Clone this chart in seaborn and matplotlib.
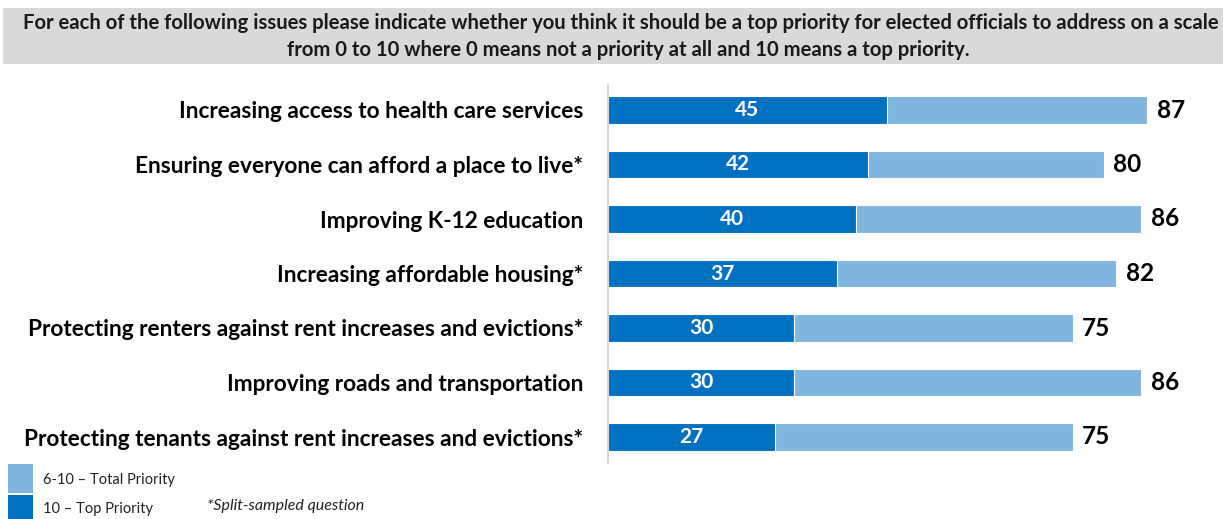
import matplotlib
matplotlib.use("Agg")
import matplotlib.pyplot as plt
from matplotlib.patches import Rectangle
import seaborn as sns
import pandas as pd

issues = [
    "Increasing access to health care services",
    "Ensuring everyone can afford a place to live*",
    "Improving K-12 education",
    "Increasing affordable housing*",
    "Protecting renters against rent increases and evictions*",
    "Improving roads and transportation",
    "Protecting tenants against rent increases and evictions*",
]
top_priority = [45, 42, 40, 37, 30, 30, 27]      # 10 - Top Priority
total_priority = [87, 80, 86, 82, 75, 86, 75]    # 6-10 - Total Priority

title_lines = [
    "For each of the following issues please indicate whether you think it should be a top priority for elected officials to address on a scale",
    "from 0 to 10 where 0 means not a priority at all and 10 means a top priority.",
]
legend_labels = ["6-10 \u2013 Total Priority", "10 \u2013 Top Priority"]
footnote = "*Split-sampled question"

DARK = "#0070C0"
LIGHT = "#7FB5DF"

sns.set_theme(style="white")
plt.rcParams["font.family"] = ["Lato", "DejaVu Sans"]

df = pd.DataFrame({"issue": issues, "top": top_priority, "total": total_priority})

W, H = 1223, 519
fig = plt.figure(figsize=(W / 100, H / 100), dpi=100)
ax = fig.add_axes([608 / W, 1 - 463 / H, (W - 608) / W, (463 - 85) / H])

bar_h = 0.50
sns.barplot(data=df, x="total", y="issue", orient="h", color=LIGHT,
            width=bar_h, saturation=1, ax=ax, edgecolor="white", linewidth=0.8)
sns.barplot(data=df, x="top", y="issue", orient="h", color=DARK,
            width=bar_h, saturation=1, ax=ax, edgecolor="white", linewidth=0.8)

px_per_unit = 6.2
ax.set_xlim(0, (W - 608) / px_per_unit)
ax.set_ylim(6 + 26 / 54.5, -25 / 54.5)

for i, (t, tot) in enumerate(zip(top_priority, total_priority)):
    ax.text(t / 2, i, f"{t}", ha="center", va="center", color="white",
            fontsize=15, fontweight="bold")
    ax.text(tot + 1.5, i, f"{tot}", ha="left", va="center", color="black",
            fontsize=17.5, fontweight="bold")

ax.set_xlabel("")
ax.set_ylabel("")
ax.set_xticks([])
ax.tick_params(axis="y", length=0, pad=18)
for lab in ax.get_yticklabels():
    lab.set_fontsize(16.3)
    lab.set_fontweight("bold")
    lab.set_color("black")
for side in ["top", "right", "bottom"]:
    ax.spines[side].set_visible(False)
ax.spines["left"].set_color("#D0D0D0")
ax.spines["left"].set_linewidth(1.2)

# Header band with the survey question
fig.patches.append(Rectangle((3 / W, 1 - 64 / H), (W - 3) / W, 56 / H,
                             transform=fig.transFigure, facecolor="#D9D9D9",
                             edgecolor="none", zorder=0))
fig.text(23 / W, 1 - 23 / H, title_lines[0], ha="left", va="center",
         fontsize=14.6, fontweight="bold", color="#1a1a1a")
fig.text(628 / W, 1 - 50 / H, title_lines[1], ha="center", va="center",
         fontsize=14.6, fontweight="bold", color="#1a1a1a")

# Legend swatches and footnote
fig.patches.append(Rectangle((8 / W, 1 - 493 / H), 25 / W, 29 / H,
                             transform=fig.transFigure, facecolor=LIGHT,
                             edgecolor="none"))
fig.patches.append(Rectangle((8 / W, 1 - 522 / H), 25 / W, 27 / H,
                             transform=fig.transFigure, facecolor=DARK,
                             edgecolor="none"))
fig.text(43 / W, 1 - 480 / H, legend_labels[0], ha="left", va="center",
         fontsize=10.5, color="#222222")
fig.text(43 / W, 1 - 509 / H, legend_labels[1], ha="left", va="center",
         fontsize=10.5, color="#222222")
fig.text(207 / W, 1 - 506 / H, footnote, ha="left", va="center",
         fontsize=11.5, style="italic", color="#222222")

fig.savefig("out.png", dpi=100)
